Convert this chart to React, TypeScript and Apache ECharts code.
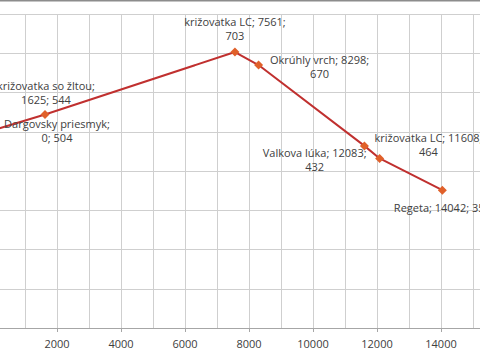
import React, { useEffect, useRef } from "react";
import * as echarts from "echarts";

const names = [
  "Dargovsky priesmyk",
  "križovatka so žltou",
  "križovatka LC",
  "Okrúhly vrch",
  "križovatka LC",
  "Valkova lúka",
  "Regeta",
];
const distances = [0, 1625, 7561, 8298, 11608, 12083, 14042];
const elevations = [504, 544, 703, 670, 464, 432, 351];
// where the label wraps: "name" = after the name, "x" = after the distance, "none" = single line
const wrapModes = ["name", "name", "x", "x", "x", "x", "none"];
const labelOffsets: [number, number][] = [
  [64, 0],
  [1, -22],
  [0, -24],
  [61, 1],
  [64, -1],
  [-65, 1],
  [0, 17],
];

export default function App() {
  const ref = useRef<HTMLDivElement>(null);
  useEffect(() => {
    if (!ref.current) return;
    const chart = echarts.init(ref.current, undefined, { renderer: "svg" });
    const font = "'Open Sans', sans-serif";
    const data = distances.map((d, i) => {
      const m = wrapModes[i];
      const text =
        m === "name"
          ? `${names[i]};\n${d}; ${elevations[i]}`
          : m === "x"
          ? `${names[i]}; ${d};\n${elevations[i]}`
          : `${names[i]}; ${d}; ${elevations[i]}`;
      return {
        value: [d, elevations[i]],
        label: {
          show: true,
          position: "inside",
          offset: labelOffsets[i],
          align: "center",
          verticalAlign: "middle",
          formatter: text,
        },
      };
    });
    chart.setOption({
      animation: false,
      backgroundColor: "#ffffff",
      grid: { left: 53, right: 35, top: 14, bottom: 32 },
      xAxis: {
        type: "value",
        min: 0,
        max: 16000,
        interval: 2000,
        axisLine: { show: true, lineStyle: { color: "#a6a6a6", width: 1 } },
        axisTick: { show: true, length: 4, lineStyle: { color: "#a6a6a6" } },
        axisLabel: {
          color: "#404040",
          fontSize: 11,
          fontFamily: font,
          margin: 10,
          formatter: (v: number) => (v <= 0 || v >= 16000 ? "" : String(v)),
        },
        splitLine: { show: true, lineStyle: { color: "#cfcfcf", width: 1 } },
        minorTick: { show: false, splitNumber: 2 },
        minorSplitLine: { show: true, lineStyle: { color: "#cfcfcf", width: 1 } },
      },
      yAxis: {
        type: "value",
        min: 0,
        max: 800,
        interval: 100,
        axisLine: { show: true, lineStyle: { color: "#a6a6a6" } },
        axisTick: { show: false },
        axisLabel: { show: false },
        splitLine: { show: true, lineStyle: { color: "#cfcfcf", width: 1 } },
      },
      graphic: [
        {
          type: "rect",
          shape: { x: 0, y: 0, width: 600, height: 1.5 },
          style: { fill: "#8c8c8c" },
        },
      ],
      series: [
        {
          type: "line",
          data,
          symbol: "diamond",
          symbolSize: 9,
          lineStyle: { color: "#c0302f", width: 2 },
          itemStyle: { color: "#e0602a" },
          label: {
            color: "#404040",
            fontSize: 11,
            fontFamily: font,
            lineHeight: 14,
          },
        },
      ],
    });
    return () => chart.dispose();
  }, []);
  return (
    <div
      ref={ref}
      style={{ position: "fixed", left: -60, top: 0, width: 600, height: 360 }}
    />
  );
}
